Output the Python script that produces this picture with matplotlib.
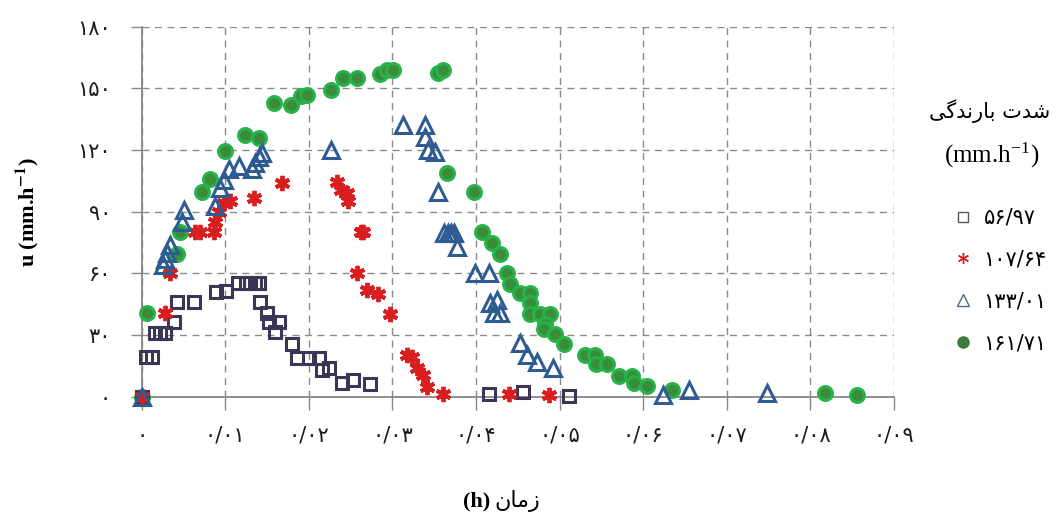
import matplotlib
matplotlib.use('Agg')
import matplotlib.pyplot as plt
from matplotlib.lines import Line2D

# rainfall intensity series (mm/h) -> time (h) vs u (mm/h)
sq_t = [0, 0.0005, 0.0012, 0.0016, 0.0022, 0.0028, 0.0038, 0.0042, 0.0062, 0.0089, 0.0101,
        0.0115, 0.0125, 0.013, 0.0135, 0.014, 0.0142, 0.015, 0.0152, 0.0164, 0.016, 0.018,
        0.0186, 0.02, 0.0212, 0.0216, 0.0224, 0.024, 0.0253, 0.0273, 0.0415, 0.0456, 0.0511]
sq_u = [0, 19.5, 19.5, 31, 31, 31, 36.5, 46, 46, 51, 51.5,
        55.5, 55.5, 55.5, 55.5, 55.5, 46, 40.5, 36.5, 36.5, 31.5, 25.5,
        19, 19, 19, 13, 14, 6.5, 8, 6, 1.5, 2.5, 0.3]

ast_t = [0, 0.0028, 0.0034, 0.0064, 0.007, 0.0086, 0.0088, 0.0092, 0.0098, 0.0106, 0.0134,
         0.0168, 0.0234, 0.0238, 0.0246, 0.0247, 0.0262, 0.0265, 0.0257, 0.0269, 0.0283,
         0.0297, 0.0317, 0.0323, 0.0329, 0.0337, 0.0341, 0.0361, 0.0439, 0.0487]
ast_u = [0, 40.5, 60, 80, 80, 80, 85, 90, 94, 95, 96.5,
         104, 104.5, 100.5, 99, 95, 80, 80, 60, 52, 50,
         40, 20.5, 19.5, 14, 10.5, 4.5, 1.5, 1.5, 0.8]

tri_t = [0, 0.0026, 0.0028, 0.003, 0.0034, 0.0048, 0.005, 0.0088, 0.0094, 0.0098, 0.0104,
         0.0116, 0.0132, 0.0136, 0.014, 0.0144, 0.0227, 0.0313, 0.0339, 0.0339, 0.0343,
         0.0351, 0.0355, 0.0362, 0.0366, 0.037, 0.0374, 0.0377, 0.0399, 0.0415, 0.0417,
         0.0425, 0.0421, 0.0429, 0.0453, 0.0461, 0.0473, 0.0492, 0.0624, 0.0655, 0.0748]
tri_u = [0, 64, 67, 70, 74, 85, 91, 93, 101.5, 105.5, 111,
         112, 111, 113.5, 116.5, 118.5, 120, 132, 132, 126.5, 120,
         119, 99.5, 79.5, 79.5, 79.5, 79.5, 73, 60, 60, 45.5,
         47, 40.5, 40.5, 26, 20.5, 17, 14, 0.8, 3.3, 1.6]

cir_t = [0, 0.0006, 0.0042, 0.0046, 0.0072, 0.0082, 0.01, 0.0124, 0.014, 0.0158, 0.0178,
         0.019, 0.0198, 0.0226, 0.0241, 0.0258, 0.0285, 0.0293, 0.0301, 0.0355, 0.0361,
         0.0365, 0.0397, 0.0407, 0.0419, 0.0429, 0.0437, 0.0441, 0.0453, 0.0464, 0.0464,
         0.0464, 0.0477, 0.0489, 0.0482, 0.0481, 0.0494, 0.0505, 0.053, 0.0542, 0.0543,
         0.0557, 0.0571, 0.0587, 0.0589, 0.0605, 0.0634, 0.0818, 0.0856]
cir_u = [0, 40.5, 69.5, 80, 99.5, 106, 119.5, 127.5, 126, 143, 142,
         146.5, 147, 149, 155, 155, 157, 159, 159, 157.5, 159,
         109, 99.5, 80, 75, 69.5, 60, 55, 50.5, 50.5, 45.5,
         40, 40, 40, 35.5, 33, 30.5, 25.5, 20.5, 20.5, 16,
         16, 10, 10, 6.5, 5, 3.3, 1.6, 0.8]

series_labels = ['۵۶/۹۷', '۱۰۷/۶۴', '۱۳۳/۰۱', '۱۶۱/۷۱']
x_ticks = [0, 0.01, 0.02, 0.03, 0.04, 0.05, 0.06, 0.07, 0.08, 0.09]
x_ticklabels = ['۰', '۰/۰۱', '۰/۰۲', '۰/۰۳', '۰/۰۴', '۰/۰۵', '۰/۰۶', '۰/۰۷', '۰/۰۸', '۰/۰۹']
y_ticks = [0, 30, 60, 90, 120, 150, 180]
y_ticklabels = ['۰', '۳۰', '۶۰', '۹۰', '۱۲۰', '۱۵۰', '۱۸۰']

# Persian words in presentation forms, visual (left-to-right) order
legend_title = '\uFBFD\uFB94\uFEAA\uFEE7\uFEAD\uFE8E\uFE91 \uFE95\uFEAA\uFEB7'   # شدت بارندگی
time_word = '\uFEE5\uFE8E\uFEE3\uFEAF'                                           # زمان

C_SQ = '#3B3556'
C_AST = '#D81E1E'
C_TRI = '#2E5C92'
C_CIR_FACE = '#3A8C3A'
C_CIR_EDGE = '#27B24A'

plt.rcParams['font.family'] = ['DejaVu Sans']
plt.rcParams['mathtext.fontset'] = 'stix'

fig = plt.figure(figsize=(10.61, 5.18), dpi=100)
ax = fig.add_axes([0.1336, 0.2342, 0.709, 0.7143])

ax.plot(cir_t, cir_u, ls='none', marker='o', ms=10, mfc=C_CIR_FACE, mec=C_CIR_EDGE, mew=2.2, clip_on=False, zorder=3)
ax.plot(sq_t, sq_u, ls='none', marker='s', ms=9, mfc='none', mec=C_SQ, mew=2.2, clip_on=False, zorder=4)
ax.plot(ast_t, ast_u, ls='none', marker=(6, 2, 0), ms=11, mec=C_AST, mew=2.8, clip_on=False, zorder=5)
ax.plot(tri_t, tri_u, ls='none', marker='^', ms=11, mfc='none', mec=C_TRI, mew=2.2, clip_on=False, zorder=6)

ax.set_xlim(0, 0.09)
ax.set_ylim(0, 180)
ax.set_xticks(x_ticks)
ax.set_xticklabels(x_ticklabels, fontsize=15, color='#1a1a1a')
ax.set_yticks(y_ticks)
ax.set_yticklabels(y_ticklabels, fontsize=15, color='#1a1a1a')
ax.tick_params(axis='x', direction='out', length=9, width=1, color='#888888', pad=12)
ax.tick_params(axis='y', direction='out', length=8, width=1, color='#888888', pad=14)

ax.grid(True, ls=(0, (5, 4)), lw=1, color='#8a8a8a')
ax.set_axisbelow(True)
for s in ['top', 'right']:
    ax.spines[s].set_visible(False)
for s in ['left', 'bottom']:
    ax.spines[s].set_color('#888888')
    ax.spines[s].set_linewidth(1.3)

# axis labels
ax.set_ylabel('u (mm.h$^{\\mathbf{-1}}$)', fontsize=16, fontweight='bold', family='Liberation Serif', labelpad=26)
fig.text(0.462, 0.022, '(h)', fontsize=16, fontweight='bold', family='Liberation Serif', ha='right', va='baseline')
fig.text(0.466, 0.022, time_word, fontsize=16, ha='left', va='baseline')

# legend
fig.text(0.933, 0.785, legend_title, fontsize=15, ha='center', va='center')
fig.text(0.935, 0.70, '(mm.h$^{\\mathregular{-1}}$)', fontsize=18, family='Liberation Serif', ha='center', va='center')
handles = [
    Line2D([], [], ls='none', marker='s', ms=7, mfc='white', mec='#555555', mew=1),
    Line2D([], [], ls='none', marker=(6, 2, 0), ms=8, mec=C_AST, mew=1),
    Line2D([], [], ls='none', marker='^', ms=9, mfc='white', mec='#4F6A88', mew=1),
    Line2D([], [], ls='none', marker='o', ms=8, mfc='#3B7D3B', mec='#3B7D3B'),
]
fig.legend(handles, series_labels, loc='upper left', bbox_to_anchor=(0.882, 0.635), frameon=False,
           fontsize=15, handlelength=0.8, handletextpad=0.6, labelspacing=1.05)

fig.savefig('out.png', dpi=100)
